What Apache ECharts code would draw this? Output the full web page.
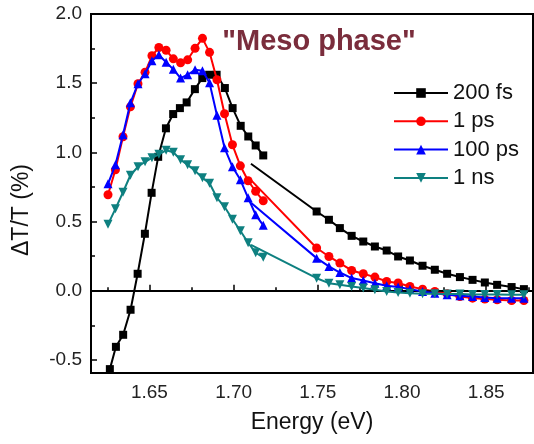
<!DOCTYPE html>
<html>
<head>
<meta charset="utf-8">
<script src="https://cdn.jsdelivr.net/npm/echarts@6/dist/echarts.min.js"></script>
<style>
html,body{margin:0;padding:0;background:#fff;}
#chart{width:534px;height:444px;}
</style>
</head>
<body>
<div id="chart"></div>
<script>
// ---- data ----
var seriesNames = ['200 fs', '1 ps', '100 ps', '1 ns'];

// first (high-resolution) segment, black
var energyA = [1.6265,1.6301,1.6344,1.6388,1.6430,1.6473,1.6513,1.6552,1.6598,1.6641,1.6681,1.6721,1.6770,1.6814,1.6855,1.6899,1.6948,1.6994,1.7042,1.7087,1.7131,1.7176];
// first segment, coloured series
var energyC = [1.6254,1.6298,1.6343,1.6387,1.6432,1.6474,1.6515,1.6556,1.6599,1.6642,1.6685,1.6727,1.6771,1.6815,1.6857,1.6901,1.6946,1.6993,1.7040,1.7086,1.7131,1.7176];
// second segment (first point is the line start, no marker)
var energyB = [1.7103,1.7493,1.7566,1.7631,1.7701,1.7770,1.7839,1.7909,1.7977,1.8047,1.8122,1.8195,1.8268,1.8344,1.8419,1.8492,1.8565,1.8651,1.8724];

var fs200A = [-0.566,-0.405,-0.318,-0.137,0.123,0.412,0.708,0.968,1.174,1.277,1.320,1.361,1.457,1.537,1.561,1.561,1.465,1.320,1.192,1.115,1.050,0.978];
var fs200B = [0.918,0.573,0.513,0.453,0.397,0.356,0.320,0.291,0.248,0.219,0.181,0.152,0.123,0.099,0.079,0.060,0.043,0.027,0.012];

var ps1A = [0.694,0.874,1.113,1.329,1.496,1.579,1.698,1.758,1.738,1.676,1.647,1.669,1.752,1.824,1.723,1.525,1.279,1.055,0.903,0.795,0.719,0.650];
var ps1B = [0.800,0.309,0.248,0.200,0.147,0.123,0.099,0.067,0.056,0.031,0.012,-0.005,-0.022,-0.041,-0.053,-0.060,-0.065,-0.070,-0.070];

var ps100A = [0.773,0.910,1.127,1.358,1.496,1.568,1.662,1.705,1.651,1.600,1.537,1.561,1.597,1.590,1.503,1.268,1.033,0.896,0.802,0.672,0.549,0.473];
var ps100B = [0.636,0.236,0.176,0.132,0.092,0.074,0.055,0.036,0.027,0.012,-0.005,-0.017,-0.029,-0.036,-0.041,-0.048,-0.053,-0.053,-0.053];

var ns1A = [0.480,0.592,0.712,0.835,0.896,0.932,0.961,0.986,1.015,1.001,0.947,0.910,0.867,0.816,0.777,0.672,0.607,0.517,0.434,0.347,0.275,0.242];
var ns1B = [0.332,0.091,0.055,0.043,0.031,0.020,0.007,-0.005,-0.012,-0.017,-0.022,-0.022,-0.024,-0.024,-0.026,-0.026,-0.026,-0.028,-0.028];

var xMajorTicks = [1.65, 1.70, 1.75, 1.80, 1.85];
var xMinorTicks = [1.625, 1.675, 1.725, 1.775, 1.825, 1.875];
var yMajorTicks = [-0.5, 0.0, 0.5, 1.0, 1.5, 2.0];
var yMinorTicks = [-0.25, 0.25, 0.75, 1.25, 1.75];

// ---- chart ----
var FONT = '"Liberation Sans", Arial, sans-serif';
var colors = ['#000000', '#ff0000', '#0000ff', '#0e8080'];
var symbols = ['rect', 'circle', 'triangle', 'triangle'];
var rotations = [0, 0, 0, 180];
var sizes = [8, 9, 9, 9];

function pairs(xs, ys, hideFirst) {
  return xs.map(function (x, i) {
    var item = { value: [x, ys[i]] };
    if (hideFirst && i === 0) item.symbol = 'none';
    return item;
  });
}

var partsA = [pairs(energyA, fs200A), pairs(energyC, ps1A), pairs(energyC, ps100A), pairs(energyC, ns1A)];
var partsB = [pairs(energyB, fs200B, true), pairs(energyB, ps1B, true), pairs(energyB, ps100B, true), pairs(energyB, ns1B, true)];

var series = [];
for (var k = 0; k < 4; k++) {
  [partsA[k], partsB[k]].forEach(function (d, j) {
    var s = {
      name: seriesNames[k],
      type: 'line',
      data: d,
      xAxisIndex: 0,
      yAxisIndex: 0,
      symbol: symbols[k],
      symbolRotate: rotations[k],
      symbolSize: sizes[k],
      showAllSymbol: true,
      color: colors[k],
      lineStyle: { color: colors[k], width: 2 },
      itemStyle: { color: colors[k] },
      animation: false,
      z: 3 + k
    };
    if (k === 0 && j === 0) {
      s.markLine = {
        silent: true,
        symbol: 'none',
        label: { show: false },
        lineStyle: { color: '#000', width: 1.5, type: 'solid' },
        data: [{ yAxis: 0 }],
        animation: false
      };
    }
    series.push(s);
  });
}

var xMin = 1.6153, xMax = 1.8778, yMin = -0.594, yMax = 2.0;

var chart = echarts.init(document.getElementById('chart'), null, { renderer: 'canvas' });
chart.setOption({
  backgroundColor: '#ffffff',
  animation: false,
  grid: { left: 91, right: 1, top: 14, bottom: 71, show: true, borderColor: '#000', borderWidth: 2, backgroundColor: 'transparent' },
  legend: {
    data: seriesNames,
    orient: 'vertical',
    left: 388,
    top: 77,
    itemWidth: 54,
    itemHeight: 12,
    itemGap: 6.3,
    textStyle: { fontFamily: FONT, fontSize: 22, color: '#111' },
    selectedMode: false
  },
  xAxis: [
    {
      type: 'value', min: xMin, max: xMax, position: 'bottom',
      name: 'Energy (eV)', nameLocation: 'middle', nameGap: 38,
      nameTextStyle: { fontFamily: FONT, fontSize: 23, color: '#111' },
      axisLine: { show: true, lineStyle: { color: '#000', width: 2 } },
      axisTick: { show: true, inside: true, length: 6, customValues: xMajorTicks, lineStyle: { color: '#000', width: 1.5 } },
      axisLabel: { show: true, customValues: xMajorTicks, margin: 10, fontFamily: FONT, fontSize: 19, color: '#222',
        formatter: function (v) { return v.toFixed(2); } },
      splitLine: { show: false }
    },
    {
      type: 'value', min: xMin, max: xMax, position: 'bottom',
      axisLine: { show: false },
      axisTick: { show: true, inside: true, length: 3.5, customValues: xMinorTicks, lineStyle: { color: '#000', width: 1.5 } },
      axisLabel: { show: false },
      splitLine: { show: false }
    }
  ],
  yAxis: [
    {
      type: 'value', min: yMin, max: yMax, position: 'left',
      axisLine: { show: true, lineStyle: { color: '#000', width: 2 } },
      axisTick: { show: true, inside: true, length: 6, customValues: yMajorTicks, lineStyle: { color: '#000', width: 1.5 } },
      axisLabel: { show: true, customValues: yMajorTicks, margin: 9, fontFamily: FONT, fontSize: 19, color: '#222',
        formatter: function (v) { return v.toFixed(1); } },
      splitLine: { show: false }
    },
    {
      type: 'value', min: yMin, max: yMax, position: 'left',
      axisLine: { show: false },
      axisTick: { show: true, inside: true, length: 4, customValues: yMinorTicks, lineStyle: { color: '#000', width: 1.5 } },
      axisLabel: { show: false },
      splitLine: { show: false }
    }
  ],
  graphic: [
    {
      type: 'text', x: 22, y: 210, rotation: Math.PI / 2,
      style: { text: '\u0394T/T (%)', fontFamily: FONT, fontSize: 23, fill: '#111', textAlign: 'center', textVerticalAlign: 'middle' }
    },
    {
      type: 'text', x: 319, y: 42,
      style: { text: '"Meso phase"', fontFamily: FONT, fontSize: 29, fontWeight: 'bold', fill: '#7a2d3c', textAlign: 'center', textVerticalAlign: 'middle' }
    }
  ],
  series: series
});
</script>
</body>
</html>
